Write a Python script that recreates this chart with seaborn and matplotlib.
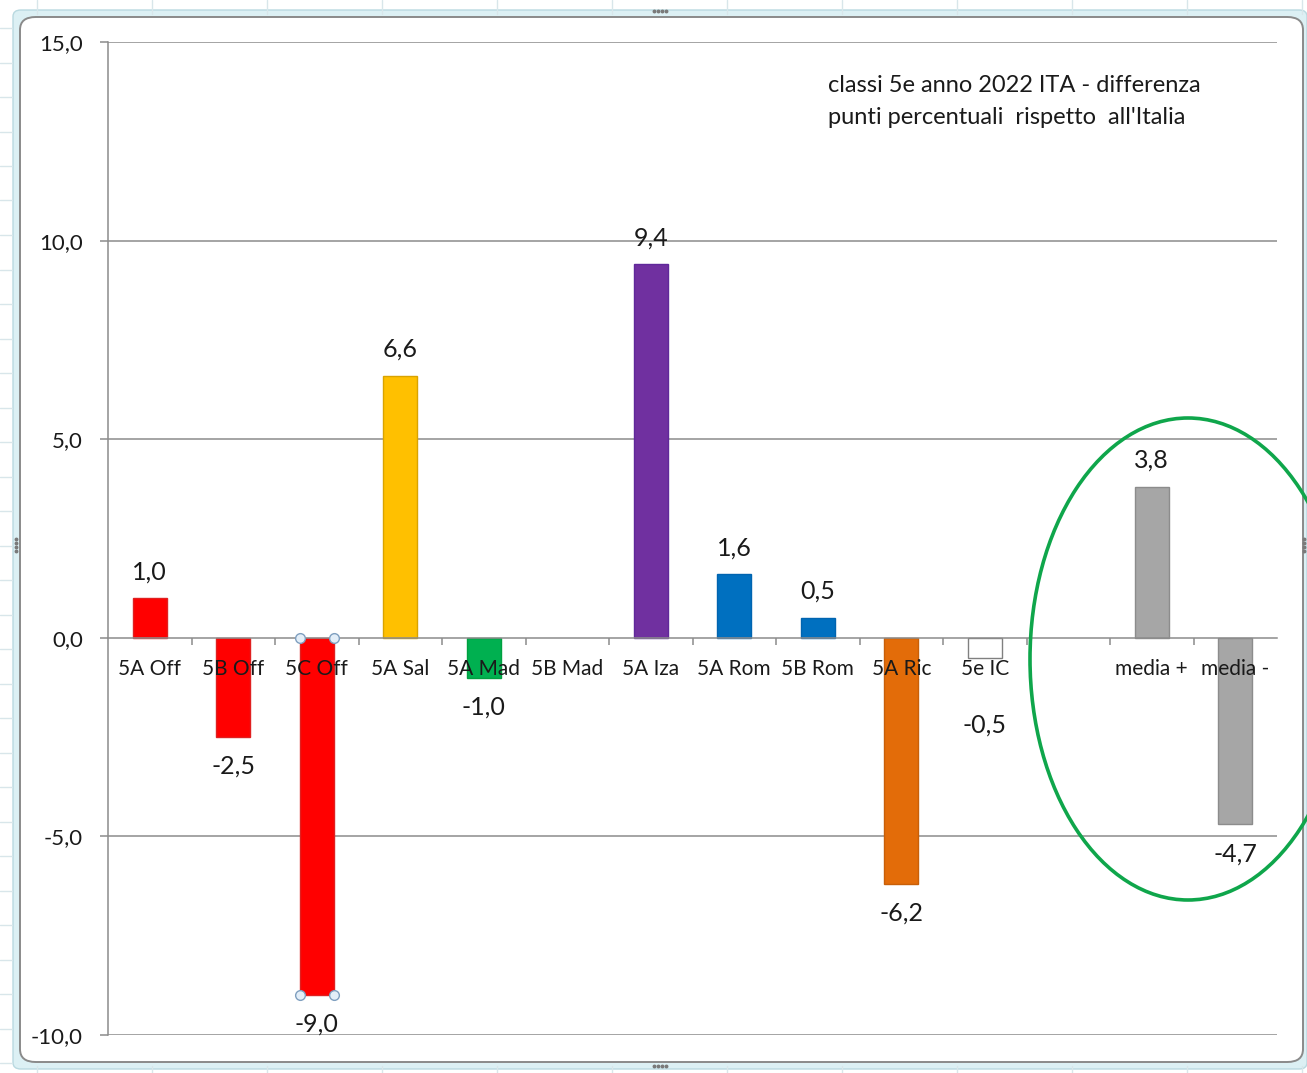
import numpy as np
import pandas as pd
import matplotlib
matplotlib.use("Agg")
import matplotlib.pyplot as plt
import seaborn as sns
from matplotlib.patches import Ellipse, FancyBboxPatch
from matplotlib.lines import Line2D
from matplotlib.ticker import FuncFormatter, FixedLocator

# --- data -------------------------------------------------------------------
classi = ["5A Off", "5B Off", "5C Off", "5A Sal", "5A Mad", "5B Mad", "5A Iza",
          "5A Rom", "5B Rom", "5A Ric", "5e IC", " ", "media +", "media -"]
differenza = [1.0, -2.5, -9.0, 6.6, -1.0, np.nan, 9.4,
              1.6, 0.5, -6.2, -0.5, np.nan, 3.8, -4.7]
colori = ["#FF0000", "#FF0000", "#FF0000", "#FFC000", "#00B050", "#FFFFFF", "#7030A0",
          "#0070C0", "#0070C0", "#E36C09", "#FFFFFF", "#FFFFFF", "#A6A6A6", "#A6A6A6"]
bordi = ["#E02020", "#E02020", "#E02020", "#D9A300", "#00A040", "#FFFFFF", "#60289A",
         "#0064B0", "#0064B0", "#C85F08", "#808080", "#FFFFFF", "#8C8C8C", "#8C8C8C"]
y_ticks = [-10, -5, 0, 5, 10, 15]
titolo = ["classi 5e anno 2022 ITA - differenza",
          "punti percentuali  rispetto  all'Italia"]
selezionata = "5C Off"

df = pd.DataFrame({"classe": classi, "diff": differenza})
df_bar = df.dropna()

# --- figure -------------------------------------------------------------------
sns.set_theme(style="white")
plt.rcParams["font.family"] = ["Lato", "DejaVu Sans"]
W, H = 1307, 1073
fig = plt.figure(figsize=(W / 100, H / 100), dpi=100, facecolor="white")


def fx(px):
    return px / W


def fy(py):
    return 1 - py / H


# spreadsheet cells around the chart object
for xv in np.arange(37, W, 115):
    fig.add_artist(Line2D([fx(xv), fx(xv)], [fy(0), fy(14)], color="#d8e6ea", lw=1))
    fig.add_artist(Line2D([fx(xv), fx(xv)], [fy(1066), fy(1073)], color="#d8e6ea", lw=1))
for yv in np.arange(28, H, 34.5):
    fig.add_artist(Line2D([fx(0), fx(12)], [fy(yv), fy(yv)], color="#d8e6ea", lw=1))

# chart area with its light selection frame
fig.add_artist(FancyBboxPatch((fx(13), fy(1069)), fx(1307) - fx(13), fy(10) - fy(1069),
                              boxstyle="round,pad=0,rounding_size=0.006",
                              transform=fig.transFigure, facecolor="#dcf0f4",
                              edgecolor="#b9d9e0", lw=1, zorder=0))
fig.add_artist(FancyBboxPatch((fx(20), fy(1062)), fx(1303) - fx(20), fy(17) - fy(1062),
                              boxstyle="round,pad=0,rounding_size=0.012",
                              transform=fig.transFigure, facecolor="white",
                              edgecolor="#8a8a8a", lw=1.4, zorder=0))
# resize handles
for cx, cy, horiz in [(660, 11, True), (660, 1066, True), (16, 545, False), (1304, 545, False)]:
    offs = np.array([-6, -2, 2, 6])
    xs = cx + offs if horiz else np.full(4, cx)
    ys = np.full(4, cy) if horiz else cy + offs
    fig.add_artist(Line2D(fx(xs), fy(ys), ls="none", marker="o", ms=1.8,
                          color="#7a7a7a", transform=fig.transFigure))

ax = fig.add_axes([fx(108), fy(1035), fx(1277) - fx(108), fy(42) - fy(1035)])
ax.set_facecolor("none")

sns.barplot(data=df_bar, x="classe", y="diff", hue="classe", order=classi,
            hue_order=list(df_bar["classe"]),
            palette=dict(zip(classi, colori)), width=0.41, legend=False,
            saturation=1, ax=ax, zorder=2)

for p in ax.patches:
    i = int(round(p.get_x() + p.get_width() / 2))
    p.set_edgecolor(bordi[i])
    p.set_linewidth(1.0)

ax.set_xlim(-0.5, len(classi) - 0.5)
ax.set_ylim(-10, 15)
ax.set_xlabel("")
ax.set_ylabel("")

# gridlines behind bars
for t in y_ticks:
    if t != 0:
        ax.axhline(t, color="#8c8c8c", lw=1.1, zorder=0.5)

for s in ["top", "right"]:
    ax.spines[s].set_visible(False)
ax.spines["left"].set_color("#8c8c8c")
ax.spines["left"].set_linewidth(1.1)
ax.spines["bottom"].set_position(("data", 0))
ax.spines["bottom"].set_color("#8c8c8c")
ax.spines["bottom"].set_linewidth(1.1)
ax.spines["bottom"].set_zorder(3)

ax.yaxis.set_major_locator(FixedLocator(y_ticks))
ax.yaxis.set_major_formatter(FuncFormatter(lambda v, _: f"{v:.1f}".replace(".", ",")))
ax.tick_params(axis="y", direction="out", length=6, width=1.1, color="#8c8c8c",
               labelsize=16, labelcolor="#1a1a1a", pad=12, left=True)

ax.set_xticks(range(len(classi)))
ax.set_xticklabels(classi)
ax.xaxis.set_minor_locator(FixedLocator(np.arange(0.5, len(classi) - 1, 1.0)))
ax.tick_params(axis="x", which="major", length=0, labelsize=15,
               labelcolor="#1a1a1a", pad=15, bottom=True)
ax.tick_params(axis="x", which="minor", direction="out", length=5, width=1.1,
               color="#8c8c8c", bottom=True)
ax.xaxis.set_zorder(4)

# value labels
LBL = 18
for i, v in enumerate(differenza):
    if np.isnan(v):
        continue
    txt = f"{v:.1f}".replace(".", ",")
    if v >= 0:
        ax.annotate(txt, (i, v), xytext=(0, 19), textcoords="offset points",
                    ha="center", va="center", fontsize=LBL, color="#1a1a1a", zorder=5)
    elif v > -1:
        # short bar: label goes below the category labels
        ax.annotate(txt, (i, 0), xytext=(0, -63), textcoords="offset points",
                    ha="center", va="center", fontsize=LBL, color="#1a1a1a", zorder=5)
    else:
        ax.annotate(txt, (i, v), xytext=(0, -21), textcoords="offset points",
                    ha="center", va="center", fontsize=LBL, color="#1a1a1a", zorder=5)

# selection handles on the selected series point
k = classi.index(selezionata)
for p in ax.patches:
    if int(round(p.get_x() + p.get_width() / 2)) == k:
        x0, x1 = p.get_x(), p.get_x() + p.get_width()
        y0, y1 = p.get_y(), p.get_y() + p.get_height()
        ax.plot([x0, x1, x0, x1], [y0, y0, y1, y1], ls="none", marker="o", ms=7,
                mfc="#e3eef8", mec="#7f9fbf", mew=1, zorder=6, clip_on=False)

# caption
fig.text(fx(828), fy(85), titolo[0], fontsize=17, color="#1a1a1a", va="center", ha="left")
fig.text(fx(828), fy(118), titolo[1], fontsize=17, color="#1a1a1a", va="center", ha="left")

# highlight of the two averages
fig.add_artist(Ellipse((fx(1188), fy(659)), fx(316), 482 / H, transform=fig.transFigure,
                       fill=False, edgecolor="#0FA64B", lw=2.6, zorder=10))

fig.savefig("out.png", dpi=100, facecolor="white")
